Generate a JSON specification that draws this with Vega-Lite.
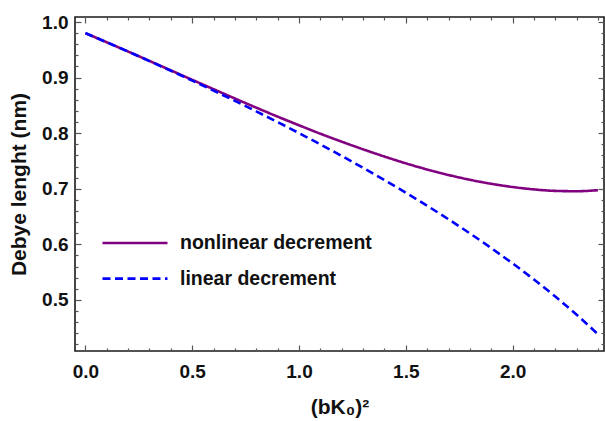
{
  "$schema": "https://vega.github.io/schema/vega-lite/v6.json",
  "width": 529,
  "height": 334,
  "autosize": {"type": "none"},
  "padding": {"left": 75, "top": 17, "right": 1, "bottom": 70},
  "background": "white",
  "config": {
    "view": {"stroke": "#1a1a1a", "strokeWidth": 1.6},
    "font": "Liberation Sans",
    "axis": {
      "domain": false,
      "grid": false,
      "tickColor": "#555555",
      "tickWidth": 1.2,
      "labelFont": "Liberation Sans",
      "labelFontWeight": "bold",
      "labelFontSize": 19,
      "labelColor": "#111111",
      "titleFont": "Liberation Sans",
      "titleFontWeight": "bold",
      "titleFontSize": 21,
      "titleColor": "#111111"
    },
    "legend": {
      "labelFont": "Liberation Sans",
      "labelFontWeight": "bold",
      "labelFontSize": 19.5,
      "labelColor": "#111111",
      "labelLimit": 0
    }
  },
  "data": {
    "values": [
      {"x": 0.0, "y": 0.9800, "series": "nonlinear decrement"},
      {"x": 0.1, "y": 0.9635, "series": "nonlinear decrement"},
      {"x": 0.2, "y": 0.9469, "series": "nonlinear decrement"},
      {"x": 0.3, "y": 0.9300, "series": "nonlinear decrement"},
      {"x": 0.4, "y": 0.9130, "series": "nonlinear decrement"},
      {"x": 0.5, "y": 0.8960, "series": "nonlinear decrement"},
      {"x": 0.6, "y": 0.8791, "series": "nonlinear decrement"},
      {"x": 0.7, "y": 0.8624, "series": "nonlinear decrement"},
      {"x": 0.8, "y": 0.8459, "series": "nonlinear decrement"},
      {"x": 0.9, "y": 0.8298, "series": "nonlinear decrement"},
      {"x": 1.0, "y": 0.8142, "series": "nonlinear decrement"},
      {"x": 1.1, "y": 0.7991, "series": "nonlinear decrement"},
      {"x": 1.2, "y": 0.7847, "series": "nonlinear decrement"},
      {"x": 1.3, "y": 0.7710, "series": "nonlinear decrement"},
      {"x": 1.4, "y": 0.7580, "series": "nonlinear decrement"},
      {"x": 1.5, "y": 0.7458, "series": "nonlinear decrement"},
      {"x": 1.6, "y": 0.7347, "series": "nonlinear decrement"},
      {"x": 1.7, "y": 0.7248, "series": "nonlinear decrement"},
      {"x": 1.8, "y": 0.7162, "series": "nonlinear decrement"},
      {"x": 1.9, "y": 0.7090, "series": "nonlinear decrement"},
      {"x": 2.0, "y": 0.7032, "series": "nonlinear decrement"},
      {"x": 2.1, "y": 0.6989, "series": "nonlinear decrement"},
      {"x": 2.2, "y": 0.6962, "series": "nonlinear decrement"},
      {"x": 2.3, "y": 0.6956, "series": "nonlinear decrement"},
      {"x": 2.4, "y": 0.6975, "series": "nonlinear decrement"},
      {"x": 0.0, "y": 0.9800, "series": "linear decrement"},
      {"x": 0.1, "y": 0.9635, "series": "linear decrement"},
      {"x": 0.2, "y": 0.9468, "series": "linear decrement"},
      {"x": 0.3, "y": 0.9297, "series": "linear decrement"},
      {"x": 0.4, "y": 0.9123, "series": "linear decrement"},
      {"x": 0.5, "y": 0.8946, "series": "linear decrement"},
      {"x": 0.6, "y": 0.8765, "series": "linear decrement"},
      {"x": 0.7, "y": 0.8581, "series": "linear decrement"},
      {"x": 0.8, "y": 0.8392, "series": "linear decrement"},
      {"x": 0.9, "y": 0.8199, "series": "linear decrement"},
      {"x": 1.0, "y": 0.8002, "series": "linear decrement"},
      {"x": 1.1, "y": 0.7799, "series": "linear decrement"},
      {"x": 1.2, "y": 0.7591, "series": "linear decrement"},
      {"x": 1.3, "y": 0.7377, "series": "linear decrement"},
      {"x": 1.4, "y": 0.7157, "series": "linear decrement"},
      {"x": 1.5, "y": 0.6930, "series": "linear decrement"},
      {"x": 1.6, "y": 0.6695, "series": "linear decrement"},
      {"x": 1.7, "y": 0.6451, "series": "linear decrement"},
      {"x": 1.8, "y": 0.6198, "series": "linear decrement"},
      {"x": 1.9, "y": 0.5934, "series": "linear decrement"},
      {"x": 2.0, "y": 0.5658, "series": "linear decrement"},
      {"x": 2.1, "y": 0.5368, "series": "linear decrement"},
      {"x": 2.2, "y": 0.5061, "series": "linear decrement"},
      {"x": 2.3, "y": 0.4734, "series": "linear decrement"},
      {"x": 2.4, "y": 0.4383, "series": "linear decrement"}
    ]
  },
  "resolve": {"axis": {"x": "independent", "y": "independent"}},
  "layer": [
    {
      "mark": {"type": "line", "strokeWidth": 2.6, "interpolate": "monotone"},
      "encoding": {
        "x": {
          "field": "x", "type": "quantitative",
          "scale": {"domain": [-0.0487, 2.428], "nice": false, "zero": false},
          "axis": {"orient": "bottom", "values": [0, 0.5, 1, 1.5, 2], "format": ".1f",
                   "tickSize": -6, "labelPadding": 17, "title": "(bK₀)²", "titlePadding": 15}
        },
        "y": {
          "field": "y", "type": "quantitative",
          "scale": {"domain": [0.4082, 1.009], "nice": false, "zero": false},
          "axis": {"orient": "left", "values": [0.5, 0.6, 0.7, 0.8, 0.9, 1.0], "format": ".1f",
                   "tickSize": -6, "labelPadding": 13, "title": "Debye lenght (nm)", "titlePadding": 12}
        },
        "color": {
          "field": "series", "type": "nominal",
          "scale": {"domain": ["nonlinear decrement", "linear decrement"], "range": ["#800080", "#0000ff"]},
          "legend": {
            "title": null, "orient": "none", "legendX": 26, "legendY": 215,
            "symbolType": "stroke", "symbolSize": 4225, "symbolStrokeWidth": 2.6,
            "labelOffset": 11, "clipHeight": 22, "rowPadding": 13.6, "padding": 0
          }
        },
        "strokeDash": {
          "field": "series", "type": "nominal",
          "scale": {"domain": ["nonlinear decrement", "linear decrement"], "range": [[1, 0], [8, 4.5]]},
          "legend": null
        }
      }
    },
    {
      "mark": {"type": "point", "opacity": 0},
      "encoding": {
        "x": {"field": "x", "type": "quantitative",
              "axis": {"orient": "bottom", "values": [0.1, 0.2, 0.3, 0.4, 0.6, 0.7, 0.8, 0.9, 1.1, 1.2, 1.3, 1.4, 1.6, 1.7, 1.8, 1.9, 2.1, 2.2, 2.3, 2.4],
                       "tickSize": -3, "labels": false, "title": null}},
        "y": {"field": "y", "type": "quantitative",
              "axis": {"orient": "left", "values": [0.42, 0.44, 0.46, 0.48, 0.52, 0.54, 0.56, 0.58, 0.62, 0.64, 0.66, 0.68, 0.72, 0.74, 0.76, 0.78, 0.82, 0.84, 0.86, 0.88, 0.92, 0.94, 0.96, 0.98],
                       "tickSize": -3, "labels": false, "title": null}}
      }
    },
    {
      "mark": {"type": "point", "opacity": 0},
      "encoding": {
        "x": {"field": "x", "type": "quantitative",
              "axis": {"orient": "top", "values": [0, 0.5, 1, 1.5, 2], "tickSize": -6, "labels": false, "title": null}},
        "y": {"field": "y", "type": "quantitative",
              "axis": {"orient": "right", "values": [0.5, 0.6, 0.7, 0.8, 0.9, 1.0], "tickSize": -6, "labels": false, "title": null}}
      }
    },
    {
      "mark": {"type": "point", "opacity": 0},
      "encoding": {
        "x": {"field": "x", "type": "quantitative",
              "axis": {"orient": "top", "values": [0.1, 0.2, 0.3, 0.4, 0.6, 0.7, 0.8, 0.9, 1.1, 1.2, 1.3, 1.4, 1.6, 1.7, 1.8, 1.9, 2.1, 2.2, 2.3, 2.4],
                       "tickSize": -3, "labels": false, "title": null}},
        "y": {"field": "y", "type": "quantitative",
              "axis": {"orient": "right", "values": [0.42, 0.44, 0.46, 0.48, 0.52, 0.54, 0.56, 0.58, 0.62, 0.64, 0.66, 0.68, 0.72, 0.74, 0.76, 0.78, 0.82, 0.84, 0.86, 0.88, 0.92, 0.94, 0.96, 0.98],
                       "tickSize": -3, "labels": false, "title": null}}
      }
    }
  ]
}
